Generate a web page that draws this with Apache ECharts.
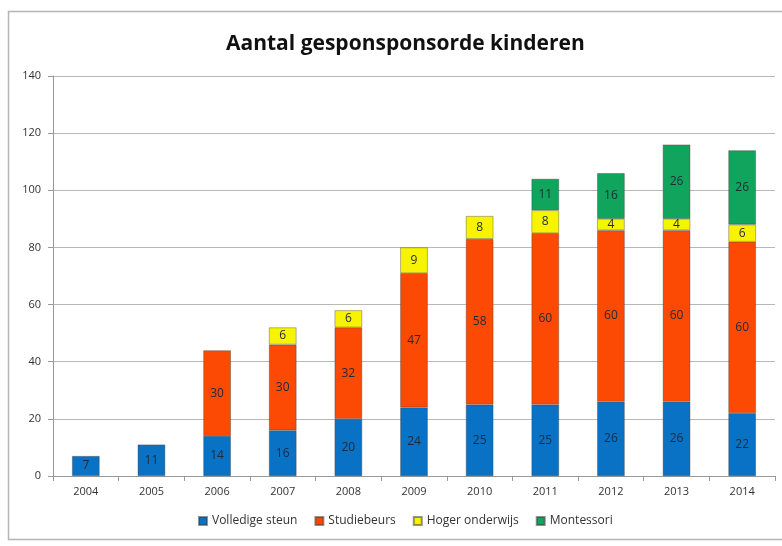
<!DOCTYPE html>
<html><head><meta charset="utf-8">
<script src="https://cdn.jsdelivr.net/npm/echarts@6/dist/echarts.min.js"></script>
<style>html,body{margin:0;padding:0;background:#fff}#c{width:782px;height:546px}</style>
</head><body><div id="c"></div>
<script>
const years = ['2004','2005','2006','2007','2008','2009','2010','2011','2012','2013','2014'];
const volledigeSteun = [7,11,14,16,20,24,25,25,26,26,22];
const studiebeurs = [null,null,30,30,32,47,58,60,60,60,60];
const hogerOnderwijs = [null,null,null,6,6,9,8,8,4,4,6];
const montessori = [null,null,null,null,null,null,null,11,16,26,26];
const seriesNames = ['Volledige steun','Studiebeurs','Hoger onderwijs','Montessori'];
const colors = ['#0a72c4','#fc4a04','#f8f400','#10a45c'];

const chart = echarts.init(document.getElementById('c'));
const font = '"Open Sans", "Liberation Sans", sans-serif';
function mk(name, data, color){
  return {name, type:'bar', stack:'a', data, barWidth:'42%',
    itemStyle:{color, borderColor:'rgba(60,60,60,0.55)', borderWidth:0.7},
    label:{show:true, position:'inside', color:'#1e2a3a', fontSize:12, fontFamily:font,
      formatter:p=>p.value==null?'':p.value}};
}
chart.setOption({
  animation:false,
  title:{text:'Aantal gesponsponsorde kinderen', left:221, top:29,
    textStyle:{fontFamily:font, fontSize:21, fontWeight:'bold', color:'#111'}},
  graphic:[{type:'rect', shape:{x:8.5,y:11.5,width:790,height:528},
    style:{fill:'none', stroke:'#b5b5b5', lineWidth:1.5}}],
  grid:{left:53, right:7, top:76, bottom:70},
  legend:{bottom:14, left:193, itemWidth:8, itemHeight:8, itemGap:17, icon:'rect',
    textStyle:{fontFamily:font, fontSize:12, color:'#333'}, data:seriesNames},
  xAxis:{type:'category', data:years,
    axisLine:{lineStyle:{color:'#999'}},
    axisTick:{show:true, alignWithLabel:false, length:5, lineStyle:{color:'#999'}},
    axisLabel:{fontFamily:font, fontSize:11, color:'#333', margin:10}},
  yAxis:{type:'value', min:0, max:140, interval:20,
    axisLine:{show:true, lineStyle:{color:'#999'}},
    axisTick:{show:true, inside:false, length:5, lineStyle:{color:'#999'}},
    splitLine:{lineStyle:{color:'#b8b8b8'}},
    axisLabel:{fontFamily:font, fontSize:11, color:'#333', margin:12}},
  series:[mk(seriesNames[0],volledigeSteun,colors[0]), mk(seriesNames[1],studiebeurs,colors[1]),
          mk(seriesNames[2],hogerOnderwijs,colors[2]), mk(seriesNames[3],montessori,colors[3])]
});
</script></body></html>
